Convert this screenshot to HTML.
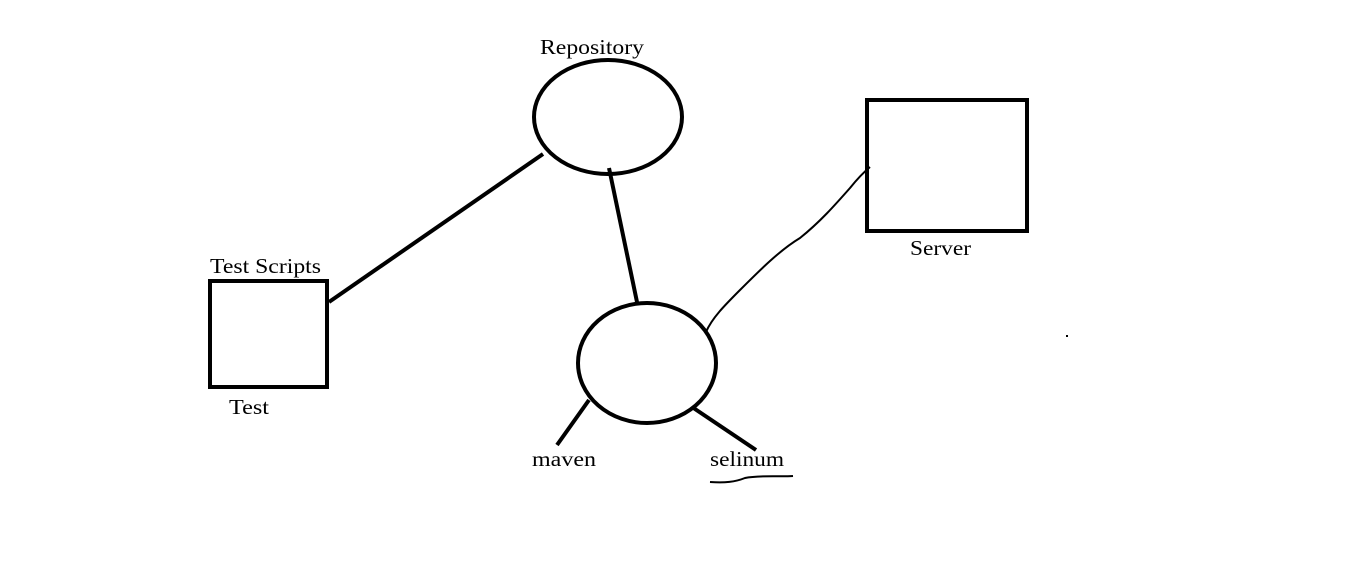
<!DOCTYPE html>
<html><head><style>
html,body{margin:0;padding:0;background:#fff;}
svg{display:block;}
text{font-family:"Liberation Serif",serif;font-size:21px;fill:#000;}
</style></head><body>
<svg width="1359" height="582" xmlns="http://www.w3.org/2000/svg">
<g fill="none" stroke="#000" stroke-width="4">
<ellipse cx="608" cy="117" rx="74" ry="57"/>
<rect x="867" y="100" width="160" height="131"/>
<rect x="210" y="281" width="117" height="106"/>
<ellipse cx="647" cy="363" rx="69" ry="60"/>
<line x1="329" y1="302" x2="543" y2="154"/>
<line x1="609" y1="168" x2="637" y2="302"/>
<line x1="589" y1="400" x2="557" y2="445"/>
<line x1="692" y1="407" x2="756" y2="450"/>
</g>
<path d="M706,332 C712,318 725,305 740,290 C760,270 780,250 800,238 C820,222 835,205 850,188 C858,178 864,172 870,167" fill="none" stroke="#000" stroke-width="2"/>
<path d="M710,482 C725,483 735,482 745,478 C760,475 780,477 793,476" fill="none" stroke="#000" stroke-width="2"/>
<rect x="1066" y="335" width="2" height="2" fill="#000"/>
<text x="540" y="54" textLength="104" lengthAdjust="spacingAndGlyphs">Repository</text>
<text x="910" y="255" textLength="61" lengthAdjust="spacingAndGlyphs">Server</text>
<text x="210" y="273" textLength="111" lengthAdjust="spacingAndGlyphs">Test Scripts</text>
<text x="229" y="414" textLength="40" lengthAdjust="spacingAndGlyphs">Test</text>
<text x="532" y="466" textLength="64" lengthAdjust="spacingAndGlyphs">maven</text>
<text x="710" y="466" textLength="74" lengthAdjust="spacingAndGlyphs">selinum</text>
</svg>
</body></html>
